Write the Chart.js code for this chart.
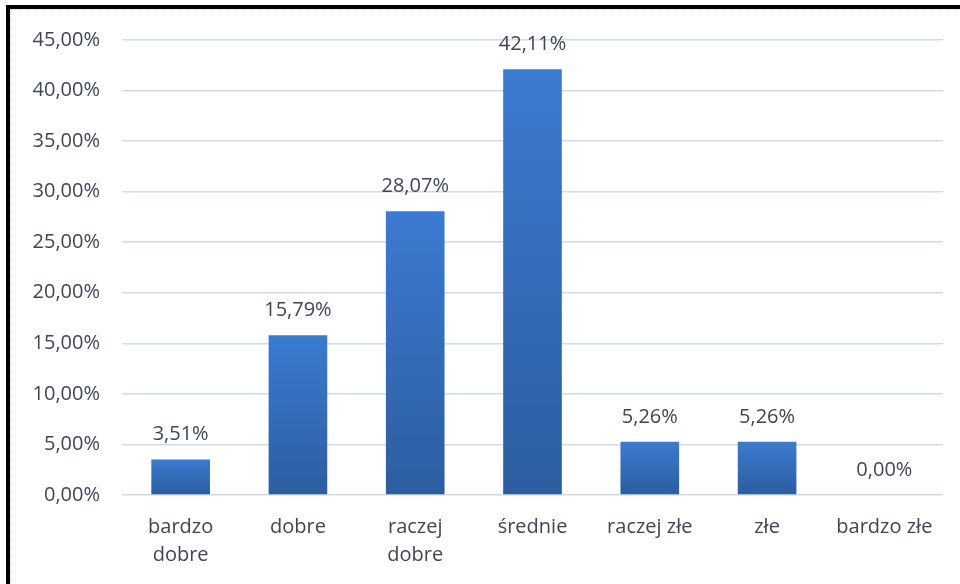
<!DOCTYPE html>
<html>
<head>
<meta charset="utf-8">
<script src="https://cdn.jsdelivr.net/npm/chart.js@4/dist/chart.umd.min.js"></script>
<style>
  html, body { margin: 0; padding: 0; background: #fff; width: 960px; height: 584px; overflow: hidden; }
  #wrap { position: absolute; left: 0; top: 0; width: 960px; height: 584px; }
  #frame { position: absolute; left: 6px; top: 5px; width: 970px; height: 600px;
           border-left: 4px solid #000; border-top: 4px solid #000; box-sizing: border-box; pointer-events: none; }
  #inner { position: absolute; left: 10px; top: 9px; width: 970px; height: 600px;
           border-left: 1px dotted #c9daee; border-top: 1px dotted #c9daee; box-sizing: border-box; pointer-events: none; }
</style>
</head>
<body>
<div id="wrap"><canvas id="c" width="960" height="584"></canvas></div>
<div id="frame"></div>
<div id="inner"></div>
<script>
const categories = [["bardzo", "dobre"], "dobre", ["raczej", "dobre"], "średnie", "raczej złe", "złe", "bardzo złe"];
const values = [3.51, 15.79, 28.07, 42.11, 5.26, 5.26, 0.00];
const yMin = 0, yMax = 45, yStep = 5;

const textColor = '#3e4655';
const fontFamily = '"Open Sans", "Noto Sans", sans-serif';
const fmt = v => v.toFixed(2).replace('.', ',') + '%';

const valueLabels = {
  id: 'valueLabels',
  afterDatasetsDraw(chart) {
    const ctx = chart.ctx;
    const meta = chart.getDatasetMeta(0);
    ctx.save();
    ctx.font = '20px ' + fontFamily;
    ctx.fillStyle = textColor;
    ctx.textAlign = 'center';
    ctx.textBaseline = 'middle';
    meta.data.forEach((bar, i) => {
      ctx.fillText(fmt(values[i]), bar.x, bar.y - 25);
    });
    ctx.restore();
  }
};

function barGradient(context) {
  const chart = context.chart;
  const y = chart.scales && chart.scales.y;
  if (!y || context.parsed === undefined || context.parsed === null) return '#3372c4';
  const top = y.getPixelForValue(context.parsed.y);
  const base = y.getPixelForValue(0);
  if (!isFinite(top) || !isFinite(base) || base - top < 1) return '#3372c4';
  const g = chart.ctx.createLinearGradient(0, top, 0, base);
  g.addColorStop(0, '#3b7bd1');
  g.addColorStop(1, '#2c5d9f');
  return g;
}

new Chart(document.getElementById('c'), {
  type: 'bar',
  data: {
    labels: categories,
    datasets: [{
      data: values,
      backgroundColor: barGradient,
      borderWidth: 0,
      barPercentage: 0.5,
      categoryPercentage: 1.0
    }]
  },
  plugins: [valueLabels],
  options: {
    responsive: false,
    animation: false,
    devicePixelRatio: 1,
    layout: { padding: { left: 0, top: 40, right: 17, bottom: 0 } },
    plugins: { legend: { display: false }, tooltip: { enabled: false } },
    scales: {
      x: {
        grid: { display: false, drawTicks: false },
        border: { display: false },
        ticks: { color: textColor, font: { family: fontFamily, size: 20, lineHeight: 1.4 }, padding: 18, maxRotation: 0, autoSkip: false },
        afterFit(scale) { scale.height = 89; }
      },
      y: {
        min: yMin, max: yMax,
        grid: { color: '#cfdbec', lineWidth: 1.5, drawTicks: false },
        border: { display: false },
        ticks: { stepSize: yStep, color: textColor, font: { family: fontFamily, size: 20 }, padding: 22, callback: v => fmt(v) },
        afterFit(scale) { scale.width = 122; }
      }
    }
  }
});
</script>
</body>
</html>
